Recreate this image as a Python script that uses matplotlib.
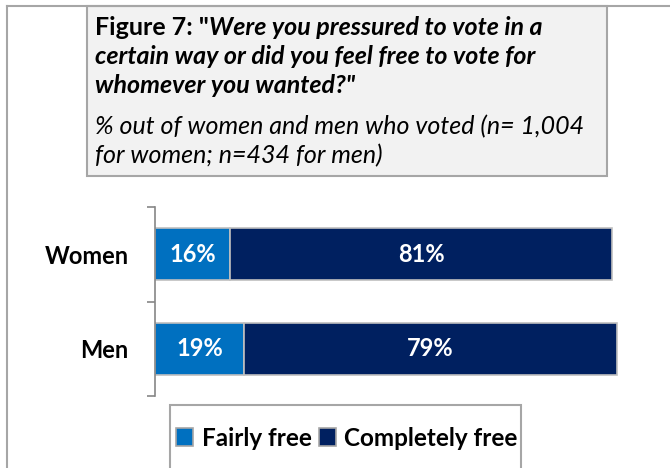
import matplotlib
matplotlib.use('Agg')
import matplotlib.pyplot as plt
from matplotlib.patches import Rectangle, Patch
from matplotlib.lines import Line2D

plt.rcParams['font.family'] = ['Lato', 'DejaVu Sans']

# data
groups = ['Women', 'Men']
fairly_free = [16, 19]
completely_free = [81, 79]
series_names = ['Fairly free', 'Completely free']
colors = ['#0070c0', '#002060']

title_lines = [
    ('Figure 7: "', 'Were you pressured to vote in a'),
    ('', 'certain way or did you feel free to vote for'),
    ('', 'whomever you wanted?"'),
]
subtitle_lines = [
    '% out of women and men who voted (n= 1,004',
    'for women; n=434 for men)',
]

W, H = 670, 468
TITLE_FS = 18
LABEL_FS = 17
fig = plt.figure(figsize=(W / 100, H / 100), dpi=100)
renderer = fig.canvas.get_renderer()

GRAY = '#a6a6a6'

# outer frame (top and left only visible)
fig.add_artist(Line2D([7 / W, 1], [1 - 6 / H] * 2, color=GRAY, lw=1.5))
fig.add_artist(Line2D([7 / W] * 2, [0, 1 - 6 / H], color=GRAY, lw=1.5))

# title box
fig.add_artist(Rectangle((87 / W, 1 - 176 / H), 520 / W, 170 / H,
                         transform=fig.transFigure, facecolor='#f2f2f2',
                         edgecolor=GRAY, lw=1.5))

baselines = [35, 64, 93]
for (lead, rest), yb in zip(title_lines, baselines):
    x0 = 95 / W
    if lead:
        t = fig.text(x0, 1 - yb / H, lead, fontsize=TITLE_FS, weight='bold',
                     va='baseline')
        x0 = fig.transFigure.inverted().transform(
            (t.get_window_extent(renderer).x1, 0))[0]
    fig.text(x0, 1 - yb / H, rest, fontsize=TITLE_FS, weight='bold',
             style='italic', va='baseline')

for line, yb in zip(subtitle_lines, [134, 163]):
    fig.text(95 / W, 1 - yb / H, line, fontsize=TITLE_FS, style='italic',
             va='baseline')

# bars
ax = fig.add_axes([155 / W, 1 - 396 / H, 471 / W, 189 / H])
y = list(range(len(groups)))
ax.barh(y, fairly_free, height=0.55, color=colors[0], edgecolor='#bfbfbf',
        lw=1.2, label=series_names[0])
ax.barh(y, completely_free, left=fairly_free, height=0.55, color=colors[1],
        edgecolor='#bfbfbf', lw=1.2, label=series_names[1])

for i in y:
    ax.text(fairly_free[i] / 2, i, f'{fairly_free[i]}%', ha='center',
            va='center', color='white', weight='bold', fontsize=LABEL_FS)
    ax.text(fairly_free[i] + completely_free[i] / 2, i,
            f'{completely_free[i]}%', ha='center', va='center',
            color='white', weight='bold', fontsize=LABEL_FS)

ax.set_xlim(0, 100)
ax.set_ylim(len(groups) - 0.5, -0.5)
for s in ['top', 'right', 'bottom']:
    ax.spines[s].set_visible(False)
ax.spines['left'].set_color('#868686')
ax.spines['left'].set_linewidth(1.2)
ax.set_xticks([])
ax.set_yticks([i - 0.5 for i in range(len(groups) + 1)])
ax.set_yticklabels([])
ax.set_yticks(y, minor=True)
ax.set_yticklabels(groups, minor=True, fontsize=LABEL_FS, weight='bold')
ax.tick_params(axis='y', which='major', length=6, color='#868686', width=1.2)
ax.tick_params(axis='y', which='minor', length=0, pad=19)
ax.patch.set_visible(False)

# legend box
fig.add_artist(Rectangle((170 / W, -0.05), 351 / W, 0.05 + 1 - 405 / H,
                         transform=fig.transFigure, fill=False,
                         edgecolor=GRAY, lw=1.5))
handles = [Patch(facecolor=c, edgecolor=GRAY, lw=1.2) for c in colors]
fig.legend(handles, series_names, loc='center left',
           bbox_to_anchor=(176 / W, 1 - 438 / H), frameon=False, ncol=2,
           handlelength=0.7, handleheight=0.7, handletextpad=0.35,
           columnspacing=0.3, borderpad=0, borderaxespad=0,
           prop=dict(weight='bold', size=17.5))

fig.savefig('out.png', dpi=100)
